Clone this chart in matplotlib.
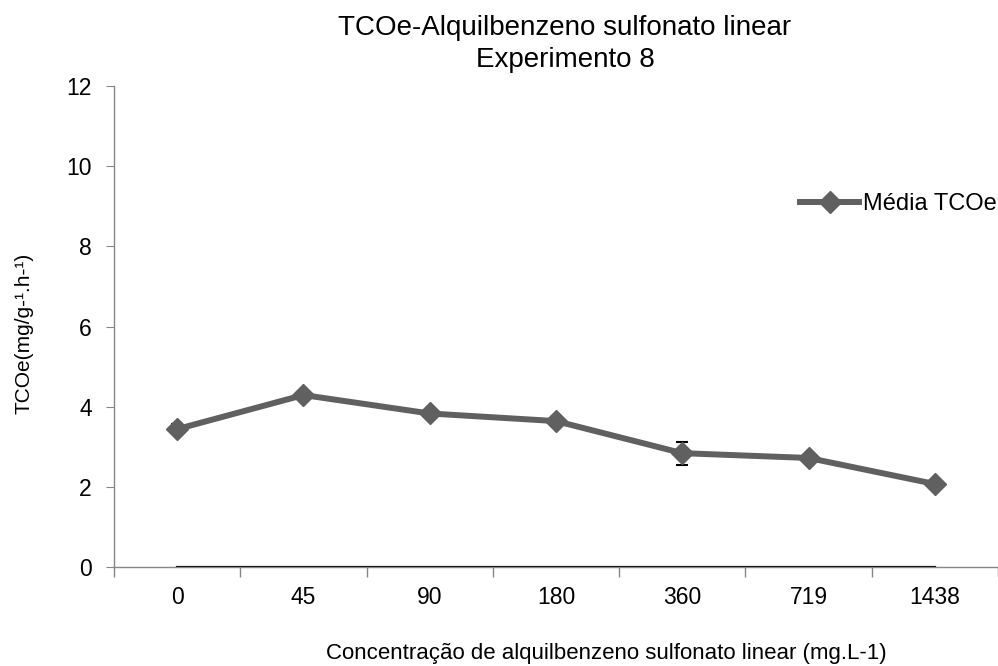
import matplotlib
matplotlib.use("Agg")
import matplotlib.pyplot as plt
import numpy as np

plt.rcParams['font.family'] = ['Liberation Sans', 'DejaVu Sans']

categories = ["0", "45", "90", "180", "360", "719", "1438"]
media_tcoe = [3.44, 4.29, 3.83, 3.64, 2.84, 2.72, 2.07]
erro = [0.12, 0.05, 0.05, 0.10, 0.29, 0.11, 0.05]
zero_series = [0, 0, 0, 0, 0, 0, 0]

fig = plt.figure(figsize=(9.98, 6.66), dpi=100)
left_px = 114
ax = fig.add_axes([left_px/998, 1-567/666, 1-left_px/998, (567-86)/666])

x = np.arange(len(categories))
ax.plot(x, zero_series, color='black', lw=1.6, zorder=2)
ax.errorbar(x, media_tcoe, yerr=erro, fmt='none', ecolor='black', elinewidth=1.2,
            capsize=4.5, capthick=1.5, zorder=3)
ax.plot(x, media_tcoe, color='#606060', lw=4.3, marker='D', markersize=11,
        markerfacecolor='#606060', markeredgecolor='#606060', label='Média TCOe', zorder=4)

ax.set_xlim(-0.5, -0.5 + (998 - left_px)/127.5)
ax.set_ylim(0, 12)
ax.set_yticks(np.arange(0, 13, 2))
ax.set_xticks(x)
ax.set_xticklabels(categories)
ax.set_xticks(np.arange(-0.5, 7, 1), minor=True)
ax.tick_params(axis='x', which='major', length=0, pad=14, labelsize=16.5)
ax.tick_params(axis='x', which='minor', length=7, color='#868686', width=1)
ax.tick_params(axis='y', length=6, color='#868686', labelsize=16.5, pad=10)

for s in ['top', 'right']:
    ax.spines[s].set_visible(False)
for s in ['left', 'bottom']:
    ax.spines[s].set_color('#868686')
    ax.spines[s].set_linewidth(1)

fig.text(565/998, 1-44/666, "TCOe-Alquilbenzeno sulfonato linear\nExperimento 8",
         ha='center', va='center', fontsize=20, linespacing=1.28)
fig.text(606/998, 1-654/666, "Concentração de alquilbenzeno sulfonato linear (mg.L-1)",
         ha='center', va='center', fontsize=16)
fig.text(24/998, 1-333/666, "TCOe(mg/g-¹.h-¹)", rotation=90,
         ha='center', va='center', fontsize=15)

ax.legend(loc='center left', bbox_to_anchor=(800/998, 1-204/666), bbox_transform=fig.transFigure,
          frameon=False, fontsize=17, handlelength=2.5, handletextpad=0.15, borderaxespad=0,
          borderpad=0)

fig.savefig("out.png", dpi=100)
